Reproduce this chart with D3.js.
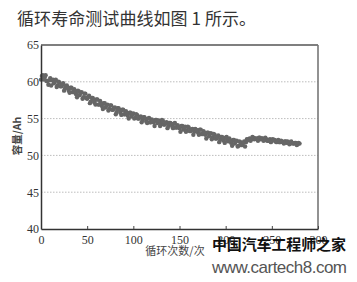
<!DOCTYPE html>
<html>
<head>
<meta charset="utf-8">
<script src="https://cdn.jsdelivr.net/npm/d3@7"></script>
<style>
  body { margin: 0; background: #fff; }
  svg { display: block; }
</style>
</head>
<body>
<svg id="chart" width="357" height="282"></svg>
<script>
const svg = d3.select("svg#chart");
const width = +svg.attr("width");
const height = +svg.attr("height");

// even cycles
const cyclesA = [
  0, 2, 4, 6, 8, 10, 12, 14, 16, 18,
  20, 22, 24, 26, 28, 30, 32, 34, 36, 38,
  40, 42, 44, 46, 48, 50, 52, 54, 56, 58,
  60, 62, 64, 66, 68, 70, 72, 74, 76, 78,
  80, 82, 84, 86, 88, 90, 92, 94, 96, 98,
  100, 102, 104, 106, 108, 110, 112, 114, 116, 118,
  120, 122, 124, 126, 128, 130, 132, 134, 136, 138,
  140, 142, 144, 146, 148, 150, 152, 154, 156, 158,
  160, 162, 164, 166, 168, 170, 172, 174, 176, 178,
  180, 182, 184, 186, 188, 190, 192, 194, 196, 198,
  200, 202, 204, 206, 208, 210, 212, 214, 216, 218,
  220, 222, 224, 226, 228, 230, 232, 234, 236, 238,
  240, 242, 244, 246, 248, 250, 252, 254, 256, 258,
  260, 262, 264, 266, 268, 270, 272, 274, 276, 278,
  280
];
// capacity (Ah) at those cycles
const capacityA = [
  60.3, 60.9, 60.6, 60.1, 59.6, 60.5, 60.2, 59.8, 60.3, 59.5,
  59.9, 59.4, 59.8, 59.1, 59.5, 58.8, 59.2, 58.6, 59.0, 58.3,
  58.8, 58.2, 58.6, 57.9, 58.4, 57.7, 58.1, 57.3, 57.8, 57.2,
  57.6, 56.9, 57.4, 56.7, 57.1, 56.5, 56.9, 56.3, 56.8, 56.2,
  56.5, 55.9, 56.4, 55.8, 56.2, 55.6, 56.0, 55.4, 55.8, 55.3,
  55.7, 55.1, 55.5, 55.0, 55.3, 54.8, 55.2, 54.6, 55.0, 54.5,
  54.9, 54.5, 54.8, 54.4, 54.7, 54.3, 54.7, 54.2, 54.5, 54.0,
  54.4, 54.0, 54.3, 53.8, 54.1, 53.7, 54.0, 53.5, 53.9, 53.4,
  53.8, 53.3, 53.6, 53.2, 53.5, 53.1, 53.5, 52.9, 53.3, 52.8,
  53.1, 52.6, 53.0, 52.4, 52.8, 52.3, 52.7, 52.1, 52.5, 52.0,
  52.4, 52.0, 52.3, 51.7, 52.1, 51.6, 52.0, 51.3, 51.8, 51.4,
  51.9, 51.8, 52.1, 52.3, 52.2, 52.4, 52.3, 52.2, 52.4, 52.2,
  52.3, 52.1, 52.2, 52.0, 52.2, 52.0, 52.1, 51.9, 52.0, 51.8,
  52.0, 51.8, 51.9, 51.7, 51.8, 51.6, 51.7, 51.6, 51.7, 51.5,
  51.6
];
// odd cycles
const cyclesB = [
  1, 3, 5, 7, 9, 11, 13, 15, 17, 19,
  21, 23, 25, 27, 29, 31, 33, 35, 37, 39,
  41, 43, 45, 47, 49, 51, 53, 55, 57, 59,
  61, 63, 65, 67, 69, 71, 73, 75, 77, 79,
  81, 83, 85, 87, 89, 91, 93, 95, 97, 99,
  101, 103, 105, 107, 109, 111, 113, 115, 117, 119,
  121, 123, 125, 127, 129, 131, 133, 135, 137, 139,
  141, 143, 145, 147, 149, 151, 153, 155, 157, 159,
  161, 163, 165, 167, 169, 171, 173, 175, 177, 179,
  181, 183, 185, 187, 189, 191, 193, 195, 197, 199,
  201, 203, 205, 207, 209, 211, 213, 215, 217, 219,
  221, 223, 225, 227, 229, 231, 233, 235, 237, 239,
  241, 243, 245, 247, 249, 251, 253, 255, 257, 259,
  261, 263, 265, 267, 269, 271, 273, 275, 277, 279
];
const capacityB = [
  60.8, 60.3, 60.9, 60.1, 60.2, 59.5, 60.3, 60.0, 59.3, 60.0,
  59.4, 59.6, 58.8, 59.4, 59.2, 58.5, 59.2, 58.6, 58.7, 57.9,
  58.7, 58.5, 57.7, 58.4, 57.8, 57.9, 57.1, 57.8, 57.6, 56.9,
  57.6, 56.9, 57.1, 56.3, 57.1, 56.8, 56.1, 56.8, 56.2, 56.4,
  55.6, 56.4, 56.2, 55.5, 56.2, 55.6, 55.7, 55.0, 55.8, 55.6,
  55.0, 55.6, 55.0, 55.2, 54.5, 55.2, 55.0, 54.4, 55.1, 54.5,
  54.7, 54.0, 54.8, 54.7, 54.0, 54.8, 54.2, 54.4, 53.7, 54.4,
  54.3, 53.7, 54.4, 53.8, 53.9, 53.2, 54.0, 53.8, 53.2, 53.9,
  53.3, 53.5, 52.8, 53.6, 53.4, 52.8, 53.5, 52.9, 53.1, 52.3,
  53.1, 52.9, 52.2, 52.9, 52.3, 52.5, 51.8, 52.5, 52.4, 51.7,
  52.5, 51.9, 52.0, 51.3, 52.1, 51.9, 51.2, 51.9, 51.4, 51.7,
  51.2, 52.2, 52.2, 52.0, 52.5, 52.2, 52.3, 52.0, 52.4, 52.3,
  52.0, 52.4, 52.0, 52.1, 51.8, 52.2, 52.1, 51.8, 52.1, 51.8,
  51.9, 51.6, 51.9, 51.9, 51.5, 51.9, 51.6, 51.7, 51.4, 51.7
];
const xTicks = [0, 50, 100, 150, 200, 250, 300];
const yTicks = [40, 45, 50, 55, 60, 65];
const gridValues = [45, 50, 55, 60];

const margin = {left: 41, right: 39, top: 45, bottom: 53};
const x = d3.scaleLinear().domain([0, 300]).range([margin.left, width - margin.right]);
const y = d3.scaleLinear().domain([40, 65]).range([height - margin.bottom, margin.top]);

// heading line of the article
svg.append("text")
    .attr("x", 17).attr("y", 25)
    .attr("font-family", "Noto Sans CJK SC")
    .attr("font-size", 17)
    .attr("textLength", 239)
    .attr("fill", "#333")
    .text("循环寿命测试曲线如图 1 所示。");

// dotted grid
svg.append("g")
    .selectAll("line")
    .data(gridValues)
    .enter().append("line")
      .attr("x1", x(0)).attr("x2", x(300))
      .attr("y1", d => y(d)).attr("y2", d => y(d))
      .attr("stroke", "#bdbdbd")
      .attr("stroke-width", 1)
      .attr("stroke-dasharray", "1.5,1.5");

// points
function drawPoints(cyc, cap) {
  svg.append("g")
      .selectAll("circle")
      .data(cyc)
      .enter().append("circle")
        .attr("cx", d => x(d))
        .attr("cy", (d, i) => y(cap[i]))
        .attr("r", 2.2)
        .attr("fill", "#666");
}
drawPoints(cyclesA, capacityA);
drawPoints(cyclesB, capacityB);

// frame top / right
svg.append("line")
    .attr("x1", x(0)).attr("x2", x(300))
    .attr("y1", y(65)).attr("y2", y(65))
    .attr("stroke", "#555").attr("stroke-width", 1.3);
svg.append("line")
    .attr("x1", x(300)).attr("x2", x(300))
    .attr("y1", y(65)).attr("y2", y(40))
    .attr("stroke", "#777").attr("stroke-width", 1.6);

const xAxis = svg.append("g")
    .attr("transform", `translate(0,${y(40)})`)
    .call(d3.axisBottom(x).tickValues(xTicks).tickSizeInner(-3).tickSizeOuter(0).tickPadding(6));
const yAxis = svg.append("g")
    .attr("transform", `translate(${x(0)},0)`)
    .call(d3.axisLeft(y).tickValues(yTicks).tickSizeInner(0).tickSizeOuter(0).tickPadding(2));

[xAxis, yAxis].forEach(g => {
  g.select(".domain").attr("stroke", "#333").attr("stroke-width", 1.5);
  g.selectAll(".tick line").attr("stroke", "#444");
  g.selectAll("text")
    .attr("font-family", "Liberation Serif")
    .attr("font-size", 12)
    .attr("fill", "#333");
});
yAxis.selectAll("text").attr("dy", "0.32em");

// axis titles
svg.append("text")
    .attr("transform", "translate(21,136) rotate(-90)")
    .attr("text-anchor", "middle")
    .attr("font-family", "Noto Sans CJK SC")
    .attr("font-weight", "bold")
    .attr("font-size", 10.5)
    .attr("fill", "#444")
    .text("容量/Ah");

svg.append("text")
    .attr("x", 175).attr("y", 255)
    .attr("text-anchor", "middle")
    .attr("font-family", "Noto Sans CJK SC")
    .attr("font-size", 11)
    .attr("fill", "#444")
    .text("循环次数/次");

// site watermark (sits over the last tick labels, as in the source)
svg.append("text")
    .attr("x", 212).attr("y", 250)
    .attr("font-family", "Noto Sans CJK SC")
    .attr("font-weight", "bold")
    .attr("font-size", 15)
    .attr("textLength", 134)
    .attr("fill", "#111")
    .text("中国汽车工程师之家");
svg.append("text")
    .attr("x", 212).attr("y", 273)
    .attr("font-family", "Liberation Sans")
    .attr("font-size", 17)
    .attr("textLength", 135)
    .attr("fill", "#555")
    .text("www.cartech8.com");
</script>
</body>
</html>
